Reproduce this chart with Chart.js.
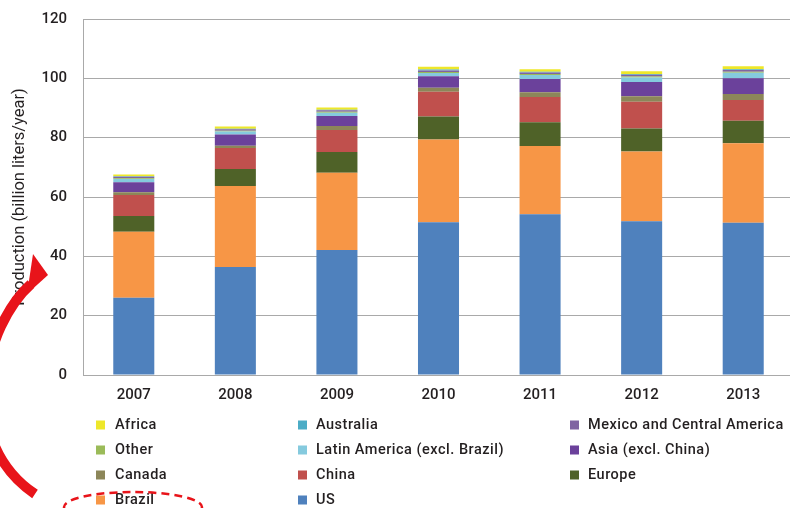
<!DOCTYPE html>
<html>
<head>
<meta charset="utf-8">
<script src="https://cdn.jsdelivr.net/npm/chart.js@4.4.1/dist/chart.umd.min.js"></script>
<style>
    html, body { margin: 0; padding: 0; overflow: hidden; background: #fff; }
    #wrap { width: 794px; height: 508px; }
</style>
</head>
<body>
<div id="wrap"><canvas id="productionChart" width="794" height="508"></canvas></div>
<script>
// Years on the x axis
var years = ['2007', '2008', '2009', '2010', '2011', '2012', '2013'];

// Production by region, billion liters/year (stacked from the bottom up)
var us           = [26.0, 36.4, 42.1, 51.5, 54.2, 51.8, 51.3];
var brazil       = [22.3, 27.3, 26.1, 27.9, 23.0, 23.5, 26.8];
var europe       = [5.3, 5.7, 7.0, 7.7, 8.0, 7.8, 7.6];
var china        = [7.1, 7.1, 7.4, 8.4, 8.5, 9.0, 7.0];
var canada       = [0.9, 0.8, 1.3, 1.3, 1.6, 1.9, 2.0];
var asia         = [3.4, 3.8, 3.4, 3.9, 4.5, 4.8, 5.3];
var latinAmerica = [1.1, 1.0, 1.1, 1.1, 1.35, 1.5, 1.9];
var other        = [0.2, 0.2, 0.3, 0.3, 0.3, 0.3, 0.3];
var mexico       = [0.5, 0.5, 0.5, 0.5, 0.5, 0.6, 0.6];
var australia    = [0.2, 0.2, 0.2, 0.4, 0.3, 0.3, 0.3];
var africa       = [0.6, 0.8, 0.8, 0.9, 0.8, 0.9, 1.0];

var textColor = '#231f20';
var gridColor = '#a9a9a9';

Chart.defaults.font.family = 'Roboto, "Open Sans", sans-serif';
Chart.defaults.color = textColor;

function series(label, data, color) {
    return {
        label: label,
        data: data,
        backgroundColor: color,
        borderWidth: 0,
        barPercentage: 0.404,
        categoryPercentage: 1
    };
}

var datasets = [
    series('US', us, '#4f81bd'),
    series('Brazil', brazil, '#f79646'),
    series('Europe', europe, '#4f6228'),
    series('China', china, '#c0504d'),
    series('Canada', canada, '#8c8659'),
    series('Asia (excl. China)', asia, '#6b419b'),
    series('Latin America (excl. Brazil)', latinAmerica, '#85cade'),
    series('Other', other, '#9bbb59'),
    series('Mexico and Central America', mexico, '#8064a2'),
    series('Australia', australia, '#4bacc6'),
    series('Africa', africa, '#eee72a')
];

// Legend in three columns + the red arrow / dashed ellipse marks
var extrasPlugin = {
    id: 'extras',
    afterDraw: function(chart) {
        var ctx = chart.ctx;
        var items = chart.data.datasets.slice().reverse();
        var boxX = [96, 298, 570];
        var textX = [115, 316, 588];
        ctx.save();
        ctx.font = '500 14.5px Roboto, sans-serif';
        ctx.letterSpacing = '0.5px';
        ctx.textBaseline = 'middle';
        ctx.textAlign = 'left';
        items.forEach(function(ds, i) {
            var col = i % 3;
            var row = Math.floor(i / 3);
            var y = 425 + row * 25;
            ctx.fillStyle = ds.backgroundColor;
            ctx.fillRect(boxX[col], y - 4.5, 9, 9);
            ctx.fillStyle = textColor;
            ctx.fillText(ds.label, textX[col], y + 0.5);
        });
        ctx.letterSpacing = '0px';

        // dashed ellipse round Brazil
        ctx.strokeStyle = '#e8141a';
        ctx.lineWidth = 2.5;
        ctx.setLineDash([8, 5]);
        ctx.beginPath();
        ctx.ellipse(133, 507, 69, 15, 0, 0, Math.PI * 2);
        ctx.stroke();
        ctx.setLineDash([]);

        // curved arrow
        ctx.strokeStyle = '#e8141a';
        ctx.lineWidth = 10;
        ctx.lineCap = 'butt';
        ctx.beginPath();
        ctx.moveTo(35, 494);
        ctx.bezierCurveTo(-45, 440, -15, 325, 31, 284);
        ctx.stroke();
        ctx.fillStyle = '#e8141a';
        ctx.beginPath();
        ctx.moveTo(33, 254);
        ctx.lineTo(48, 275);
        ctx.lineTo(27, 294);
        ctx.closePath();
        ctx.fill();
        ctx.restore();
    }
};

var ctx = document.getElementById('productionChart').getContext('2d');
var productionChart = new Chart(ctx, {
    type: 'bar',
    data: { labels: years, datasets: datasets },
    options: {
        responsive: false,
        animation: false,
        layout: { padding: { top: 19, left: 0, right: 0, bottom: 0 } },
        plugins: {
            legend: { display: false },
            tooltip: { enabled: false }
        },
        scales: {
            x: {
                stacked: true,
                grid: { display: false, drawTicks: false },
                border: { color: gridColor },
                ticks: { padding: 11, font: { size: 15, weight: '500' } },
                afterFit: function(scale) { scale.height = 133; }
            },
            y: {
                stacked: true,
                min: 0,
                max: 120,
                ticks: { stepSize: 20, padding: 16, font: { size: 15, weight: '500' } },
                grid: { color: gridColor, drawTicks: false },
                border: { color: gridColor },
                title: {
                    display: true,
                    text: 'Production (billion liters/year)',
                    font: { size: 16.5 },
                    padding: { top: 10, bottom: 0 }
                },
                afterFit: function(scale) {
                    scale.width = 83;
                    scale.paddingTop = 0;
                    scale.paddingBottom = 0;
                }
            }
        }
    },
    plugins: [extrasPlugin]
});
</script>
</body>
</html>
